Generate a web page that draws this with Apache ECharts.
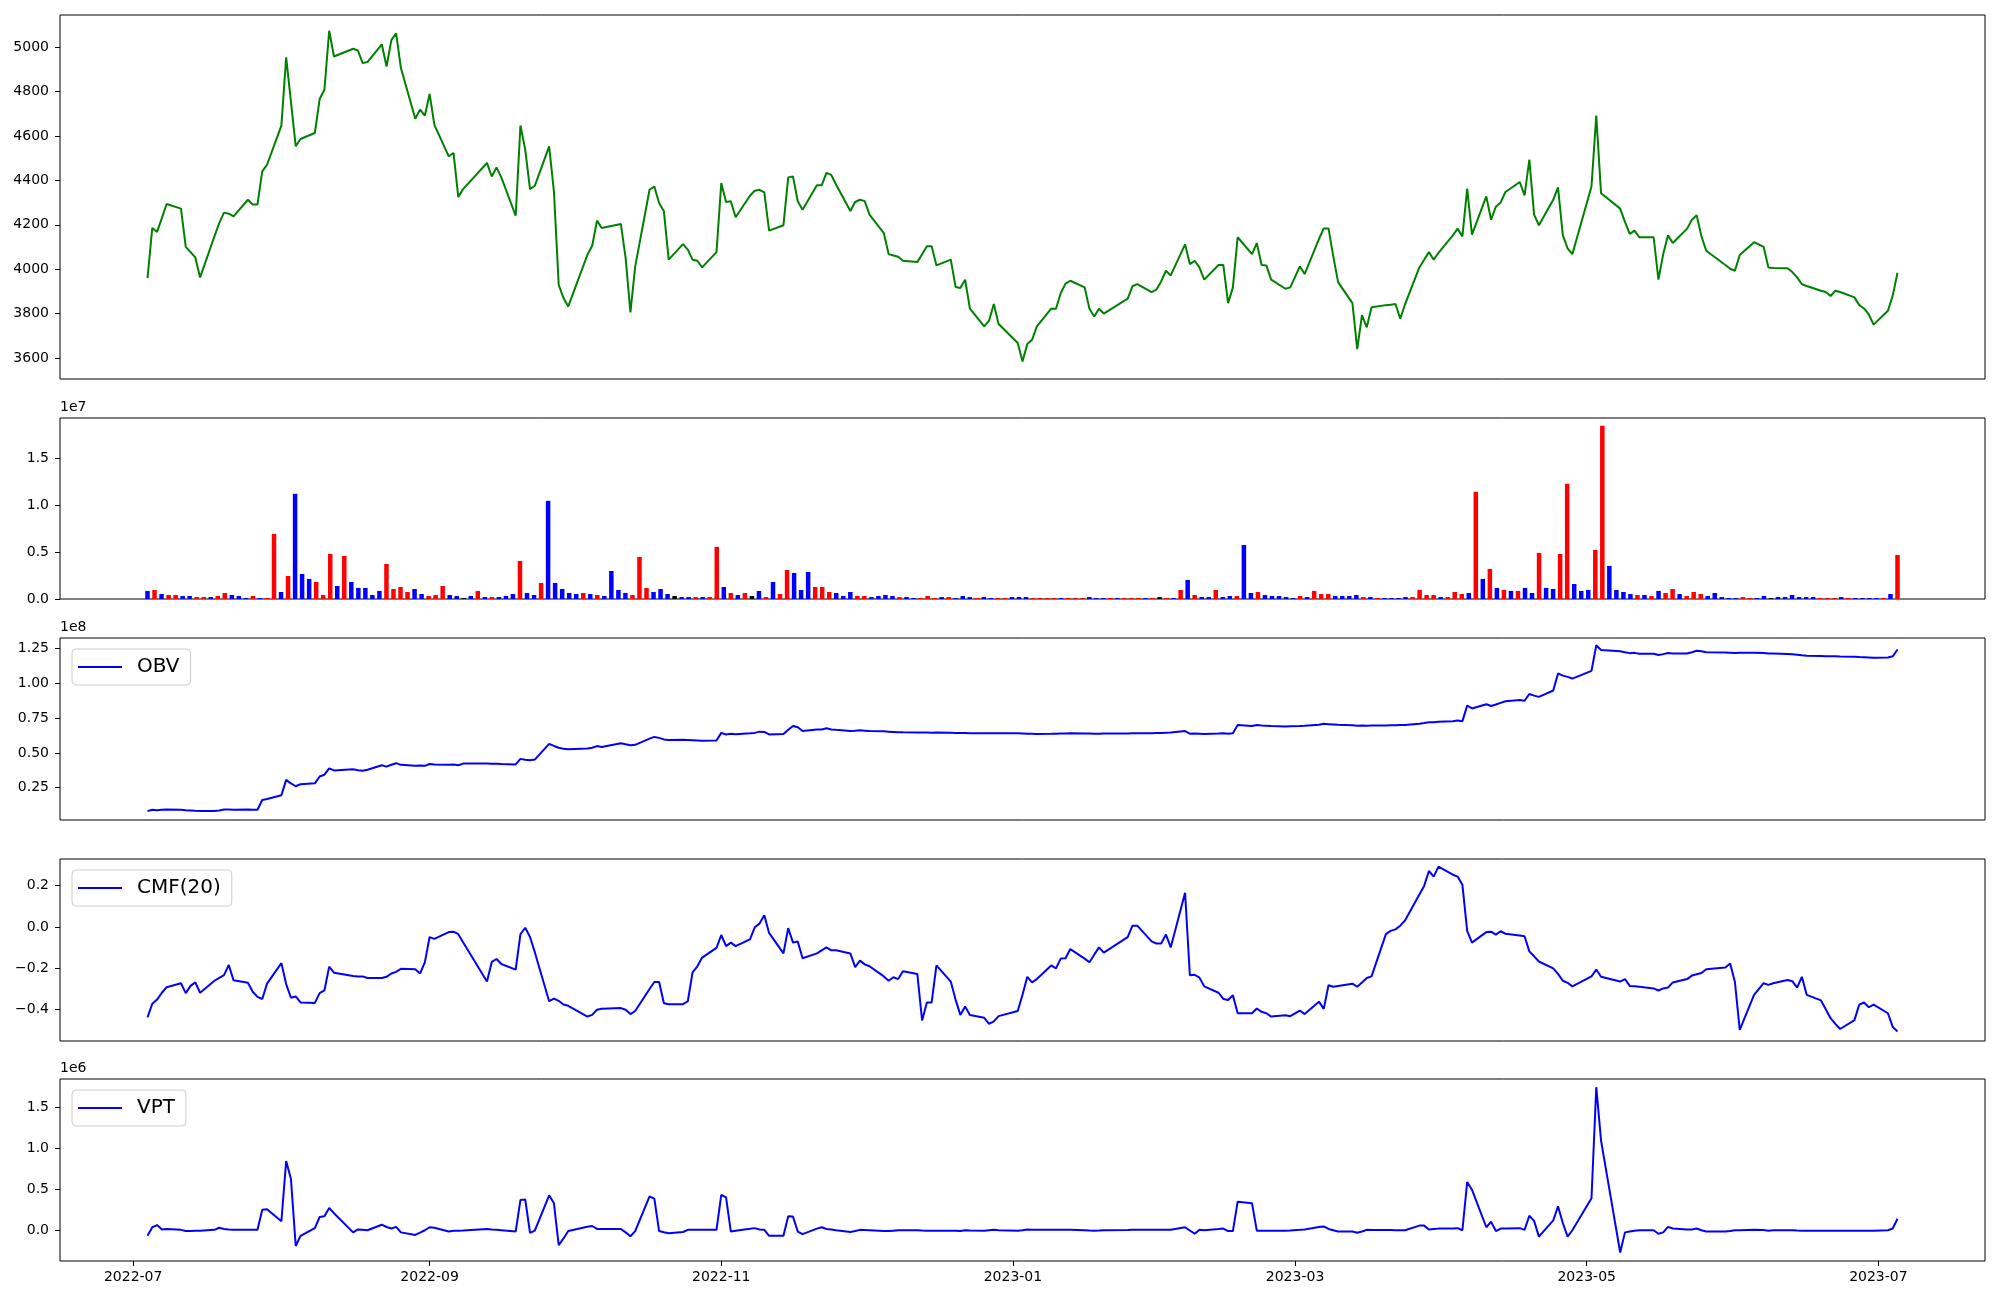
<!DOCTYPE html>
<html><head><meta charset="utf-8">
<script src="https://cdn.jsdelivr.net/npm/echarts@6/dist/echarts.min.js"></script>
<style>html,body{margin:0;padding:0;background:#fff}#c{width:2000px;height:1300px}</style>
</head><body><div id="c"></div>
<script>
// Trading days by month
const months = ['2022-07','2022-08','2022-09','2022-10','2022-11','2022-12','2023-01','2023-02','2023-03','2023-04','2023-05','2023-06','2023-07'];
const monthDays = [
  [4,5,6,7,8,11,12,13,14,15,18,19,20,21,22,25,26,27,28,29],
  [1,2,3,4,5,8,9,10,11,12,16,17,18,19,22,23,24,25,26,29,30,31],
  [1,2,5,6,7,8,13,14,15,16,19,20,21,22,23,26,27,28,29,30],
  [4,5,6,7,11,12,13,14,17,18,19,20,21,24,25,26,27,28,31],
  [1,2,3,4,7,8,9,10,11,14,15,16,17,18,21,22,23,24,25,28,29,30],
  [1,2,5,6,7,8,9,12,13,14,15,16,19,20,21,22,23,26,27,28,29],
  [2,3,4,5,6,9,10,11,12,13,16,17,18,19,20,25,26,27,30,31],
  [1,2,3,6,7,8,9,10,13,14,15,16,17,20,21,22,23,24,27,28],
  [2,3,6,7,8,9,10,13,14,15,16,17,20,21,22,23,24,27,28,29,30,31],
  [3,4,5,6,7,10,11,12,13,14,17,18,19,20,21,24,25,26,27,28],
  [2,3,4,8,9,10,11,12,15,16,17,18,19,22,23,24,25,26,30,31],
  [1,2,5,7,8,9,12,13,14,15,16,19,20,21,22,23,26,27,28,29,30],
  [3,4,5]
];

const closePrice = [
  3960,4186,4168,4230,4294,4273,4101,4077,4053,3963,4148,4208,4255,4250,4238,4313,4292,4292,4441,4471,
  4647,4955,4755,4554,4587,4614,4767,4809,5075,4959,4994,4986,4929,4934,5014,4914,5033,5063,4907,4678,4719,4692,
  4790,4651,4509,4524,4325,4361,4479,4418,4459,4414,4241,4648,4539,4361,4376,4554,4350,3930,3870,3832,
  4065,4106,4219,4186,4204,4050,3805,4013,4358,4373,4298,4261,4043,4113,4088,4043,4038,4008,4077,
  4388,4303,4306,4234,4331,4354,4358,4346,4174,4198,4414,4418,4306,4268,4378,4378,4434,4425,4382,4262,4303,4313,
  4307,4246,4163,4068,4062,4056,4038,4032,4067,4103,4103,4017,4043,3920,3915,3953,3822,3742,3768,3843,3753,
  3667,3584,3663,3682,3742,3822,3822,3893,3935,3948,3918,3822,3787,3822,3800,3867,3923,3933,3897,3908,
  3945,3993,3972,4112,4023,4038,4008,3953,4019,4019,3847,3918,4144,4068,4118,4019,4017,3953,3912,3918,
  4013,3978,4136,4184,4184,4057,3942,3847,3640,3793,3738,3828,3838,3840,3843,3777,3841,4008,4043,4077,4043,4074,
  4152,4183,4148,4363,4156,4328,4223,4282,4301,4348,4393,4333,4494,4246,4198,4313,4369,4154,4094,4068,
  4373,4693,4342,4273,4213,4159,4174,4144,4144,3953,4068,4153,4118,4183,4223,4243,4148,4083,4019,4002,
  3993,4064,4122,4101,4008,4005,4004,3987,3963,3932,3924,3903,3897,3879,3903,3897,3873,3838,3823,3796,3750,
  3813,3881,3984
];

// volume in units of 1e7
const volume = [
  0.086,0.096,0.053,0.043,0.043,0.032,0.032,0.021,0.021,0.021,
  0.032,0.064,0.043,0.032,0.011,0.032,0.011,0.011,0.695,0.075,
  0.246,1.123,0.267,0.214,0.182,0.043,0.481,0.139,0.460,0.182,
  0.118,0.118,0.043,0.086,0.374,0.107,0.128,0.075,0.107,0.053,
  0.032,0.043,0.139,0.043,0.032,0.011,0.032,0.086,0.021,0.021,
  0.021,0.032,0.053,0.406,0.064,0.043,0.171,1.048,0.171,0.107,
  0.064,0.053,0.064,0.053,0.043,0.032,0.299,0.096,0.064,0.043,
  0.449,0.118,0.075,0.107,0.053,0.032,0.021,0.021,0.021,0.021,
  0.021,0.556,0.128,0.064,0.043,0.064,0.032,0.086,0.021,0.182,
  0.053,0.310,0.278,0.096,0.289,0.128,0.128,0.075,0.064,0.032,
  0.075,0.032,0.032,0.021,0.032,0.043,0.032,0.021,0.021,0.011,
  0.011,0.032,0.011,0.021,0.021,0.011,0.032,0.021,0.011,0.021,
  0.011,0.011,0.011,0.021,0.021,0.021,0.011,0.011,0.011,0.011,
  0.011,0.011,0.011,0.011,0.021,0.011,0.011,0.011,0.011,0.011,
  0.011,0.011,0.011,0.011,0.021,0.011,0.011,0.096,0.203,0.043,
  0.021,0.021,0.096,0.021,0.032,0.032,0.577,0.064,0.075,0.043,
  0.032,0.032,0.021,0.011,0.032,0.021,0.086,0.053,0.053,0.032,
  0.032,0.032,0.043,0.021,0.021,0.011,0.011,0.011,0.011,0.021,
  0.021,0.096,0.043,0.043,0.021,0.021,0.075,0.053,0.064,1.144,
  0.214,0.321,0.118,0.096,0.086,0.086,0.118,0.064,0.492,0.118,
  0.107,0.481,1.230,0.160,0.086,0.096,0.524,1.850,0.353,0.096,
  0.075,0.053,0.043,0.043,0.032,0.086,0.064,0.107,0.053,0.032,
  0.075,0.053,0.032,0.064,0.021,0.011,0.011,0.021,0.011,0.011,
  0.032,0.011,0.021,0.021,0.043,0.021,0.021,0.021,0.011,0.011,
  0.011,0.021,0.011,0.011,0.011,0.011,0.011,0.011,0.053,0.470
];
// bar colour codes: r = red, b = blue, k = black
const volumeColorCodes =
  'brbrrbbrrb' + 'rrbbbrbrrb' + 'rbbbrrrbrb' + 'bbbbrrrrbb' + 'rrrbbkbrbr' +
  'bbbrbbrbbb' + 'bbrbrbbbbr' + 'rrbbbkbbrb' + 'rrbrbrkbrb' + 'rrbbbrrrbb' +
  'brrbbbbrbb' + 'rrrbrbbbrb' + 'brrbbbrrrr' + 'brrrbbbrbr' + 'rrbrkrbrbr' +
  'bbrbbrbbrb' + 'bbbbrbrrrb' + 'bbbrbrbbbb' + 'rrrrbrrrbr' + 'brbrbrbbrb' +
  'brrbbbrrbb' + 'bbrbrbrrbr' + 'rrbbbbbrrb' + 'bkbbbbbbrr' + 'rbrbbbbrbr';

// OBV in units of 1e8
const obv = [
  0.081,0.091,0.087,0.090,0.093,0.091,0.088,0.086,0.083,0.081,0.082,0.086,0.093,0.092,0.091,0.092,0.091,0.091,0.161,0.168,
  0.195,0.306,0.280,0.260,0.275,0.281,0.330,0.343,0.389,0.374,0.383,0.375,0.371,0.379,0.411,0.401,0.415,0.426,0.414,0.407,0.410,0.407,
  0.420,0.417,0.415,0.417,0.411,0.423,0.423,0.421,0.422,0.420,0.417,0.457,0.451,0.447,0.452,0.565,0.550,0.537,0.530,0.527,
  0.532,0.537,0.549,0.543,0.570,0.562,0.555,0.558,0.603,0.615,0.608,0.597,0.592,0.595,0.593,0.591,0.589,0.587,0.589,
  0.644,0.632,0.638,0.634,0.641,0.644,0.653,0.651,0.633,0.636,0.666,0.693,0.684,0.657,0.668,0.669,0.678,0.669,0.666,0.658,0.660,0.663,
  0.660,0.657,0.655,0.653,0.651,0.649,0.648,0.647,0.647,0.646,0.645,0.646,0.645,0.643,0.643,0.643,0.642,0.642,0.642,0.641,0.641,
  0.641,0.640,0.638,0.637,0.636,0.637,0.638,0.639,0.640,0.641,0.640,0.639,0.638,0.638,0.639,0.640,0.641,0.642,0.642,0.643,
  0.644,0.645,0.646,0.657,0.638,0.640,0.638,0.636,0.639,0.641,0.638,0.641,0.700,0.693,0.701,0.697,0.695,0.693,0.690,0.692,
  0.694,0.696,0.703,0.709,0.707,0.705,0.703,0.699,0.696,0.697,0.696,0.698,0.698,0.699,0.699,0.700,0.701,0.710,0.715,0.721,0.721,0.724,
  0.727,0.733,0.727,0.841,0.820,0.850,0.838,0.848,0.860,0.872,0.881,0.875,0.924,0.912,0.903,0.949,1.072,1.056,1.047,1.035,
  1.090,1.275,1.241,1.232,1.225,1.218,1.220,1.214,1.213,1.204,1.211,1.219,1.215,1.216,1.225,1.235,1.231,1.225,1.222,1.221,
  1.219,1.220,1.220,1.219,1.216,1.215,1.212,1.210,1.206,1.202,1.200,1.197,1.196,1.196,1.195,1.194,1.192,1.190,1.189,1.187,1.185,
  1.186,1.195,1.244
];

const cmf20 = [
  -0.437,-0.371,-0.351,-0.318,-0.291,-0.272,-0.320,-0.285,-0.268,-0.318,-0.260,-0.246,-0.233,-0.184,-0.258,-0.270,-0.313,-0.338,-0.348,-0.274,
  -0.175,-0.276,-0.342,-0.336,-0.365,-0.367,-0.320,-0.307,-0.192,-0.221,-0.237,-0.239,-0.239,-0.247,-0.247,-0.241,-0.225,-0.217,-0.202,-0.204,-0.225,-0.171,
  -0.049,-0.058,-0.025,-0.023,-0.035,-0.074,-0.264,-0.169,-0.155,-0.179,-0.206,-0.035,-0.004,-0.049,-0.122,-0.359,-0.346,-0.357,-0.375,-0.381,
  -0.433,-0.425,-0.400,-0.395,-0.392,-0.400,-0.421,-0.406,-0.300,-0.266,-0.266,-0.369,-0.373,-0.373,-0.359,-0.219,-0.190,-0.148,-0.101,
  -0.039,-0.093,-0.076,-0.093,-0.060,-0.002,0.016,0.056,-0.029,-0.128,-0.006,-0.076,-0.070,-0.151,-0.128,-0.113,-0.099,-0.113,-0.113,-0.128,-0.194,-0.163,
  -0.181,-0.190,-0.239,-0.260,-0.243,-0.252,-0.214,-0.227,-0.452,-0.365,-0.365,-0.186,-0.264,-0.351,-0.425,-0.384,-0.425,-0.439,-0.468,-0.456,-0.431,
  -0.406,-0.328,-0.241,-0.268,-0.252,-0.186,-0.200,-0.153,-0.151,-0.107,-0.153,-0.171,-0.134,-0.099,-0.124,-0.049,0.006,0.006,-0.070,-0.080,
  -0.080,-0.037,-0.099,0.165,-0.233,-0.231,-0.245,-0.287,-0.318,-0.348,-0.353,-0.330,-0.417,-0.417,-0.394,-0.410,-0.417,-0.433,-0.427,-0.431,
  -0.404,-0.421,-0.361,-0.396,-0.282,-0.289,-0.285,-0.274,-0.289,-0.268,-0.247,-0.239,-0.035,-0.019,-0.012,0.006,0.031,0.157,0.198,0.270,0.243,0.291,
  0.252,0.243,0.204,-0.019,-0.076,-0.025,-0.023,-0.037,-0.021,-0.033,-0.041,-0.045,-0.118,-0.142,-0.167,-0.200,-0.227,-0.260,-0.270,-0.287,
  -0.239,-0.206,-0.241,-0.264,-0.252,-0.285,-0.287,-0.289,-0.297,-0.307,-0.297,-0.293,-0.268,-0.252,-0.235,-0.229,-0.223,-0.204,-0.196,-0.177,
  -0.266,-0.497,-0.328,-0.272,-0.280,-0.272,-0.256,-0.262,-0.293,-0.241,-0.328,-0.355,-0.398,-0.441,-0.468,-0.493,-0.450,-0.375,-0.365,-0.388,-0.375,
  -0.417,-0.483,-0.505
];

// VPT in units of 1e6
const vpt = [
  -0.068,0.037,0.063,0.010,0.016,0.005,-0.010,-0.008,-0.005,-0.005,0.005,0.031,0.015,0.008,0.005,0.005,0.005,0.005,0.251,0.256,
  0.110,0.846,0.627,-0.193,-0.068,0.026,0.162,0.172,0.272,0.209,-0.026,0.010,0.005,0.000,0.068,0.040,0.021,0.042,-0.026,-0.057,-0.030,0.000,
  0.037,0.030,-0.016,-0.005,-0.005,-0.003,0.016,0.010,0.005,0.000,-0.016,0.371,0.376,-0.031,-0.005,0.428,0.329,-0.183,-0.100,-0.010,
  0.042,0.052,0.016,0.016,0.016,-0.026,-0.073,-0.010,0.413,0.387,-0.010,-0.025,-0.037,-0.021,0.005,0.005,0.005,0.005,0.005,
  0.434,0.402,-0.016,-0.005,0.018,0.026,0.010,0.005,-0.068,-0.068,0.172,0.167,-0.016,-0.047,0.020,0.037,0.016,0.010,0.000,-0.021,-0.010,0.005,
  0.003,0.000,-0.010,-0.010,-0.005,0.000,0.000,0.000,-0.003,-0.005,-0.005,-0.005,-0.005,-0.007,-0.010,0.000,-0.003,-0.005,0.000,0.005,0.000,
  -0.005,0.000,0.010,0.005,0.005,0.005,0.005,0.005,0.005,0.005,0.000,-0.003,-0.005,-0.003,0.000,0.003,0.005,0.005,0.005,0.005,
  0.005,0.005,0.005,0.037,-0.003,-0.042,0.005,0.000,0.015,0.021,-0.010,-0.010,0.350,0.329,-0.005,-0.005,-0.005,-0.005,-0.005,-0.003,
  0.005,0.010,0.040,0.047,0.016,0.000,-0.016,-0.016,-0.031,-0.015,0.005,0.003,0.003,0.002,0.000,0.000,0.000,0.057,0.057,0.010,0.015,0.020,
  0.021,0.026,0.000,0.590,0.496,0.037,0.104,-0.010,0.021,0.021,0.026,0.005,0.178,0.115,-0.078,0.120,0.293,0.089,-0.078,0.000,
  0.392,1.750,1.097,-0.272,-0.026,-0.015,-0.005,0.000,0.000,-0.042,-0.026,0.042,0.021,0.010,0.010,0.021,0.000,-0.016,-0.016,-0.010,
  0.000,0.000,0.005,0.003,-0.005,0.000,0.000,0.000,-0.003,-0.005,-0.005,-0.005,-0.005,-0.005,-0.005,-0.005,-0.005,-0.005,-0.005,-0.005,-0.005,
  0.000,0.021,0.141
];

const xTickLabels = ['2022-07','2022-09','2022-11','2023-01','2023-03','2023-05','2023-07'];
const priceTicks = [3600,3800,4000,4200,4400,4600,4800,5000];
const volumeTicks = [0,0.5,1.0,1.5];
const obvTicks = [0.25,0.5,0.75,1.0,1.25];
const cmfTicks = [-0.4,-0.2,0,0.2];
const vptTicks = [0,0.5,1.0,1.5];

// ---- build ----
const dates = [];
months.forEach((m, k) => {
  const [y, mo] = m.split('-').map(Number);
  monthDays[k].forEach(d => dates.push(Date.UTC(y, mo - 1, d)));
});
const span = dates[dates.length - 1] - dates[0];
const tMin = dates[0] - span * 0.05, tMax = dates[dates.length - 1] + span * 0.05;
const n = volume.length;
const iMin = -(n - 1) * 0.05, iMax = (n - 1) * 1.05;
const xTickVals = xTickLabels.map(s => { const [y, m] = s.split('-').map(Number); return Date.UTC(y, m - 1, 1); });
const colorMap = { r: '#ff0000', b: '#0000ff', k: '#000000' };
const pair = arr => arr.map((v, i) => [dates[i], v]);

const FONT = 'DejaVu Sans';
const minus = s => s.replace('-', '\u2212');
const gridBase = { left: 60, width: 1925, show: true, borderColor: '#000', borderWidth: 1, backgroundColor: 'transparent' };
function yAx(gi, min, max, ticks, fmt, name) {
  return {
    type: 'value', gridIndex: gi, min, max, scale: false, position: 'left',
    name: name || '', nameLocation: 'end', nameGap: 4,
    nameTextStyle: { align: 'left', verticalAlign: 'bottom', fontSize: 14, color: '#000', fontFamily: FONT, padding: 0 },
    axisLine: { show: false, onZero: false }, splitLine: { show: false },
    axisTick: { show: true, inside: false, length: 5, lineStyle: { color: '#000', width: 1 }, customValues: ticks },
    axisLabel: { show: true, customValues: ticks, formatter: fmt, fontSize: 14, color: '#000', fontFamily: FONT, margin: 11 }
  };
}
function hiddenX(gi, min, max) {
  return { type: 'value', gridIndex: gi, min, max, show: false, axisLine: { onZero: false }, splitLine: { show: false } };
}
const legendBase = {
  orient: 'horizontal', left: 72, icon: 'rect', itemWidth: 44, itemHeight: 2,
  padding: [6, 11, 6, 6], borderColor: '#cccccc', borderWidth: 1, borderRadius: 4,
  backgroundColor: 'rgba(255,255,255,0.8)', selectedMode: false,
  textStyle: { fontSize: 20, fontFamily: FONT, color: '#000', padding: [0, 0, 0, 10], lineHeight: 24 }
};

const option = {
  animation: false,
  backgroundColor: '#ffffff',
  textStyle: { fontFamily: FONT },
  grid: [
    Object.assign({ top: 15, height: 364 }, gridBase),
    Object.assign({ top: 418, height: 181 }, gridBase),
    Object.assign({ top: 638, height: 182 }, gridBase),
    Object.assign({ top: 859, height: 182 }, gridBase),
    Object.assign({ top: 1079, height: 182 }, gridBase)
  ],
  xAxis: [
    hiddenX(0, tMin, tMax),
    hiddenX(1, iMin, iMax),
    hiddenX(2, tMin, tMax),
    hiddenX(3, tMin, tMax),
    {
      type: 'value', gridIndex: 4, min: tMin, max: tMax, position: 'bottom',
      axisLine: { show: false, onZero: false }, splitLine: { show: false },
      axisTick: { show: true, inside: false, length: 5, lineStyle: { color: '#000', width: 1 }, customValues: xTickVals },
      axisLabel: {
        show: true, customValues: xTickVals, fontSize: 14, color: '#000', fontFamily: FONT, margin: 9,
        formatter: v => { const d = new Date(v); return d.getUTCFullYear() + '-' + String(d.getUTCMonth() + 1).padStart(2, '0'); }
      }
    }
  ],
  yAxis: [
    yAx(0, 3505, 5146, priceTicks, v => String(Math.round(v))),
    yAx(1, 0, 1.932, volumeTicks, v => v.toFixed(1), '1e7'),
    yAx(2, 0.017, 1.327, obvTicks, v => v.toFixed(2), '1e8'),
    yAx(3, -0.551, 0.328, cmfTicks, v => minus(v.toFixed(1))),
    yAx(4, -0.376, 1.85, vptTicks, v => v.toFixed(1), '1e6')
  ],
  legend: [
    Object.assign({ data: ['OBV'], top: 649 }, legendBase),
    Object.assign({ data: ['CMF(20)'], top: 870 }, legendBase),
    Object.assign({ data: ['VPT'], top: 1090 }, legendBase)
  ],
  series: [
    { name: 'Close', type: 'line', xAxisIndex: 0, yAxisIndex: 0, data: pair(closePrice),
      showSymbol: false, color: '#008000', lineStyle: { color: '#008000', width: 2 } },
    { name: 'Volume', type: 'bar', xAxisIndex: 1, yAxisIndex: 1, barWidth: 4.5,
      data: volume.map((v, i) => ({ value: [i, v], itemStyle: { color: colorMap[volumeColorCodes[i]] } })) },
    { name: 'OBV', type: 'line', xAxisIndex: 2, yAxisIndex: 2, data: pair(obv),
      showSymbol: false, color: '#0000ff', lineStyle: { color: '#0000ff', width: 2 } },
    { name: 'CMF(20)', type: 'line', xAxisIndex: 3, yAxisIndex: 3, data: pair(cmf20),
      showSymbol: false, color: '#0000ff', lineStyle: { color: '#0000ff', width: 2 } },
    { name: 'VPT', type: 'line', xAxisIndex: 4, yAxisIndex: 4, data: pair(vpt),
      showSymbol: false, color: '#0000ff', lineStyle: { color: '#0000ff', width: 2 } }
  ]
};
const chart = echarts.init(document.getElementById('c'), null, { renderer: 'canvas', width: 2000, height: 1300 });
chart.setOption(option);
</script>
</body></html>
